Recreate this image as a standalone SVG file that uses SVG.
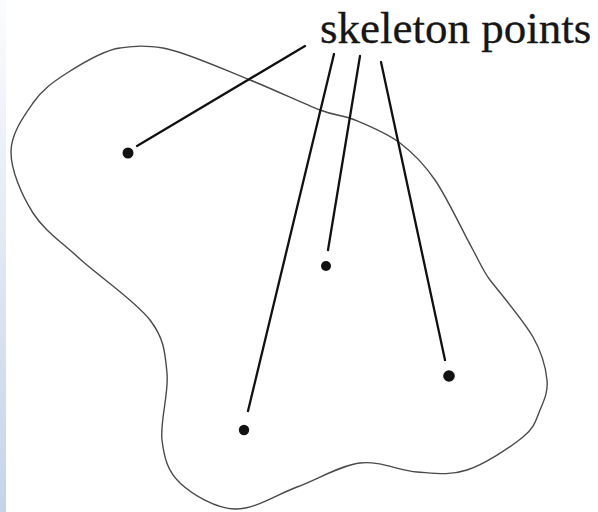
<svg xmlns="http://www.w3.org/2000/svg" width="598" height="512" viewBox="0 0 598 512">
<defs>
<linearGradient id="strip" x1="0" y1="0" x2="0" y2="1">
<stop offset="0" stop-color="#fbfcfe"/>
<stop offset="1" stop-color="#c4d4e8"/>
</linearGradient>
<style>
.outline{fill:none;stroke:#4a4a4a;stroke-width:1.4;stroke-linejoin:round}
.lead{fill:none;stroke:#111;stroke-width:2.3;stroke-linecap:round}
.pt{fill:#111}
.label{font-family:"Liberation Serif","Times New Roman",serif;font-size:45px;fill:#161616;stroke:#161616;stroke-width:0.3}
</style>
</defs>
<rect x="0" y="0" width="598" height="512" fill="#ffffff"/>
<rect x="0" y="0" width="6" height="512" fill="url(#strip)"/>
<g id="region">
<path class="outline" d="M 120,48 C 136,46 143,45 163,48 C 183,51 223.8,69.5 250,80 C 276.2,90.5 302.5,103.3 320,110 C 337.5,116.7 341.7,114.5 355,120 C 368.3,125.5 386.7,133 400,143 C 413.3,153 422.8,162.2 435,180 C 447.2,197.8 461,228 473,250 C 478.5,259.7 483,271 490,280 C 500,293 523.5,320.3 533,337 C 542.5,353.7 545.8,367.8 547,380 C 548.2,392.2 544,400.5 540,410 C 536,419.5 535.2,427 523,437 C 510.8,447 484.7,464.2 467,470 C 449.3,475.8 434.8,473.2 417,472 C 399.2,470.8 380,460.5 360,463 C 340,465.5 317.8,479.3 297,487 C 276.2,494.7 254.5,509.7 235,509 C 215.5,508.3 192.2,494.5 180,483 C 167.8,471.5 164.2,458.3 162,440 C 159.8,421.7 169,393 167,373 C 165,353 164.5,339 150,320 C 135.5,301 99.5,276.8 80,259 C 60.5,241.2 44.5,230.8 33,213 C 21.5,195 11,170.3 11,152 C 11,133.7 23.7,116.2 33,103 C 42.3,89.8 52.5,82.3 67,73 C 81.5,63.7 104,50 120,48 Z"/>
</g>
<g id="label">
<text class="label" x="320" y="43">skeleton points</text>
</g>
<g id="connectors">
<line class="lead" x1="305" y1="46" x2="137" y2="146"/>
<line class="lead" x1="334" y1="54" x2="248" y2="411"/>
<line class="lead" x1="360" y1="56" x2="328" y2="250"/>
<line class="lead" x1="381" y1="62" x2="445" y2="360"/>
</g>
<g id="point1"><circle class="pt" cx="128" cy="153" r="5.5"/></g>
<g id="point2"><circle class="pt" cx="326" cy="266" r="5"/></g>
<g id="point3"><circle class="pt" cx="244" cy="430" r="5.2"/></g>
<g id="point4"><circle class="pt" cx="449" cy="376" r="5.8"/></g>
</svg>
